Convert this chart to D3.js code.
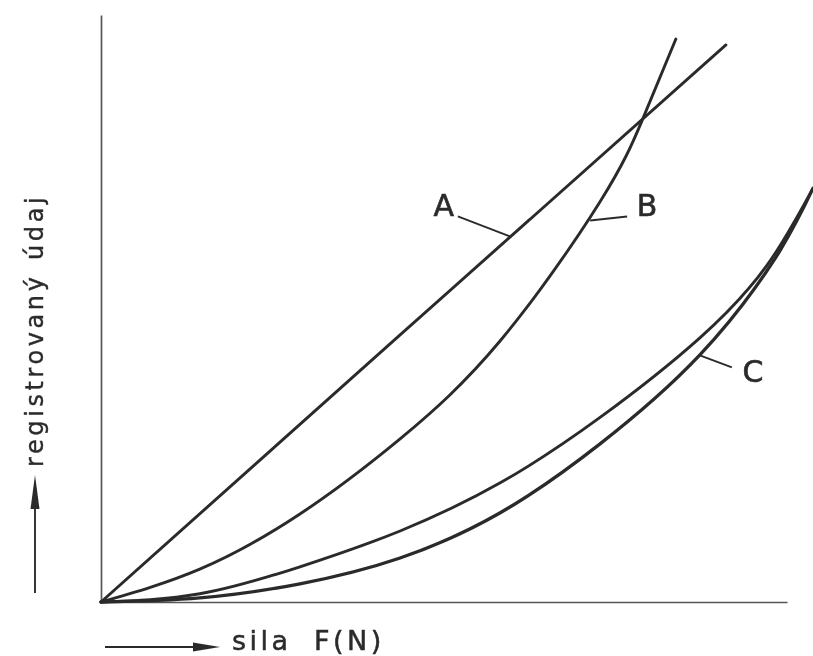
<!DOCTYPE html>
<html>
<head>
<meta charset="utf-8">
<script src="https://cdn.jsdelivr.net/npm/d3@7"></script>
<style>
	body { margin: 0; background: #fff; }
	svg { display: block; }
</style>
</head>
<body>
<svg id="chart"></svg>
<script>
const seriesA = [[0, 0], [43.6, 45.5], [91.1, 94.9]];
const seriesB = [
	[0, 0], [14.4, 5.6], [29.0, 15.0], [43.6, 27.8], [58.2, 44.5],
	[72.7, 68.1], [78.9, 82.1], [83.8, 95.9],
];
const seriesC1 = [
	[0, 0], [14.4, 1.4], [29.0, 6.0], [43.6, 12.1], [58.2, 20.3],
	[72.7, 31.4], [87.3, 45.0], [97.1, 57.4], [103.8, 70.5],
];
const seriesC2 = [
	[0, 0], [14.4, 0.7], [29.0, 3.1], [43.6, 7.5], [58.2, 15.2],
	[72.7, 26.9], [87.3, 42.1], [98.3, 58.6], [103.8, 70.5],
];
const labelNames = ["A", "B", "C"];
const labelPoints = [[59.6, 62.3], [71.3, 65.0], [87.3, 42.0]];

const xTitle = "sila F(N)";
const yTitle = "registrovaný údaj";

class ForceChart {
	constructor(selector, width = 813, height = 656) {
		this.width = width;
		this.height = height;
		this.svg = d3.select(selector).attr("width", width).attr("height", height);
		this.x = d3.scaleLinear().domain([0, 100]).range([101, 787]);
		this.y = d3.scaleLinear().domain([0, 100]).range([602, 15]);
		this.ink = "#2b2b2b";
		this.font = "DejaVu Sans";

		// scanned print look
		this.svg.append("defs")
			.append("filter")
			.attr("id", "soft")
			.append("feGaussianBlur")
			.attr("stdDeviation", 0.45);
		this.g = this.svg.append("g").attr("filter", "url(#soft)");
	}

	drawAxes() {
		const xAxis = d3.axisBottom(this.x).tickValues([]).tickSizeOuter(0);
		const yAxis = d3.axisLeft(this.y).tickValues([]).tickSizeOuter(0);

		this.g.append("g")
			.attr("transform", `translate(0,${this.y(0)})`)
			.call(xAxis)
			.select(".domain")
			.attr("stroke", "#555")
			.attr("stroke-width", 1.7);

		this.g.append("g")
			.attr("transform", `translate(${this.x(0)},0)`)
			.call(yAxis)
			.select(".domain")
			.attr("stroke", "#555")
			.attr("stroke-width", 1.7);
	}

	drawCurves() {
		const line = d3.line()
			.x((d) => this.x(d[0]))
			.y((d) => this.y(d[1]))
			.curve(d3.curveNatural);

		const curves = [
			{ data: seriesA, w: 2.9 },
			{ data: seriesB, w: 2.9 },
			{ data: seriesC1, w: 2.9 },
			{ data: seriesC2, w: 3.3 },
		];
		curves.forEach((c) => {
			this.g.append("path")
				.attr("d", line(c.data))
				.attr("fill", "none")
				.attr("stroke", this.ink)
				.attr("stroke-width", c.w)
				.attr("stroke-linecap", "round");
		});
	}

	drawLabels() {
		// leader offsets (px) from the curve point to the letter
		const leaders = [
			{ dx: -52, dy: -20, tx: -66, ty: -20 },
			{ dx: 37, dy: -4, tx: 57, ty: -4 },
			{ dx: 32, dy: 12, tx: 53, ty: 27 },
		];
		labelNames.forEach((name, i) => {
			const px = this.x(labelPoints[i][0]);
			const py = this.y(labelPoints[i][1]);
			const l = leaders[i];
			this.g.append("line")
				.attr("x1", px)
				.attr("y1", py)
				.attr("x2", px + l.dx)
				.attr("y2", py + l.dy)
				.attr("stroke", this.ink)
				.attr("stroke-width", 1.9);
			this.g.append("text")
				.attr("x", px + l.tx)
				.attr("y", py + l.ty)
				.attr("text-anchor", "middle")
				.attr("font-family", this.font)
				.attr("font-size", "30px")
				.attr("fill", this.ink)
				.attr("stroke", this.ink)
				.attr("stroke-width", 0.6)
				.text(name);
		});
	}

	drawTitles() {
		const x0 = this.x(0);
		const y0 = this.y(0);

		// x title with arrow
		const ay = y0 + 45;
		this.g.append("line")
			.attr("x1", x0 + 4).attr("y1", ay)
			.attr("x2", x0 + 100).attr("y2", ay)
			.attr("stroke", this.ink).attr("stroke-width", 1.9);
		this.g.append("path")
			.attr("d", `M${x0 + 92},${ay - 4.5}L${x0 + 119},${ay}L${x0 + 92},${ay + 4.5}Z`)
			.attr("fill", this.ink);
		const xWords = xTitle.split(" ");
		const xt = this.g.append("text")
			.attr("y", y0 + 48)
			.attr("font-family", this.font)
			.attr("font-size", "27px")
			.attr("letter-spacing", "3.5px")
			.attr("fill", this.ink)
			.attr("stroke", this.ink)
			.attr("stroke-width", 0.5);
		xt.append("tspan").attr("x", x0 + 131).text(xWords[0]);
		xt.append("tspan").attr("x", x0 + 213).text(xWords[1]);

		// y title with arrow
		const ax = 35;
		this.g.append("line")
			.attr("x1", ax).attr("y1", y0 - 9)
			.attr("x2", ax).attr("y2", y0 - 110)
			.attr("stroke", this.ink).attr("stroke-width", 1.9);
		this.g.append("path")
			.attr("d", `M${ax - 4.5},${y0 - 93}L${ax},${y0 - 127}L${ax + 4.5},${y0 - 93}Z`)
			.attr("fill", this.ink);
		const yWords = yTitle.split(" ");
		const yt = this.g.append("text")
			.attr("transform", `translate(43,${y0 - 135}) rotate(-90)`)
			.attr("font-family", this.font)
			.attr("font-size", "24px")
			.attr("letter-spacing", "3.6px")
			.attr("fill", this.ink)
			.attr("stroke", this.ink)
			.attr("stroke-width", 0.4);
		yt.append("tspan").attr("x", 0).text(yWords[0]);
		yt.append("tspan").attr("x", 207).text(yWords[1]);
	}

	draw() {
		this.drawAxes();
		this.drawCurves();
		this.drawLabels();
		this.drawTitles();
	}
}

new ForceChart("#chart").draw();
</script>
</body>
</html>
